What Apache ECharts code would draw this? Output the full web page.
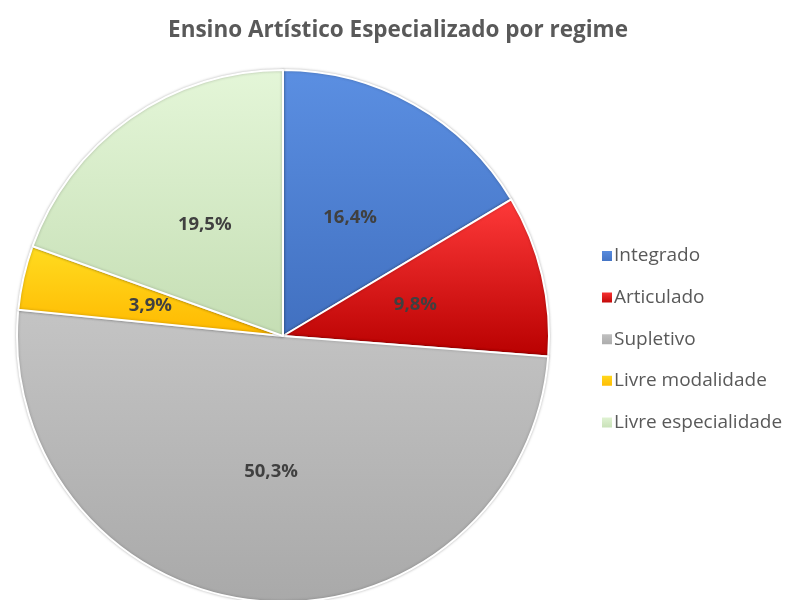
<!DOCTYPE html>
<html><head><meta charset="utf-8">
<script src="https://cdn.jsdelivr.net/npm/echarts@6/dist/echarts.min.js"></script>
<style>html,body{margin:0;padding:0;background:#fff}#c{width:789px;height:600px}</style>
</head><body><div id="c"></div>
<script>
const title = 'Ensino Artístico Especializado por regime';
const categories = ['Integrado', 'Articulado', 'Supletivo', 'Livre modalidade', 'Livre especialidade'];
const values = [16.4, 9.8, 50.3, 3.9, 19.5];
const colorTop = ['#5b8fe2', '#ff3a3a', '#c4c4c4', '#ffdc20', '#e4f6d8'];
const colorBottom = ['#4170c0', '#b80000', '#a9a9a9', '#ffb800', '#c5deb4'];

function grad(i){
  return new echarts.graphic.LinearGradient(0,0,0,1,[{offset:0,color:colorTop[i]},{offset:1,color:colorBottom[i]}]);
}
const chart = echarts.init(document.getElementById('c'));
chart.setOption({
  animation:false,
  title:{text:title,left:393,top:14,textAlign:'center',
    textStyle:{fontFamily:'Open Sans',fontWeight:'bold',fontSize:22.5,color:'#595959'}},
  legend:{orient:'vertical',left:595,top:239,icon:'rect',itemWidth:12,itemHeight:12,itemGap:17.6,
    data:categories,
    textStyle:{fontFamily:'Open Sans',fontSize:19,color:'#595959',padding:[0,0,0,-4],lineHeight:24}},
  series:[{
    type:'pie',center:[283,336],radius:[0,266],startAngle:90,clockwise:true,
    label:{show:true,position:'inside',formatter:p=>p.value.toFixed(1).replace('.',',')+'%',
      fontFamily:'Open Sans',fontWeight:'bold',fontSize:18.5,color:'#404040'},
    labelLine:{show:false},
    itemStyle:{borderColor:'#ffffff',borderWidth:2,shadowBlur:3,shadowColor:'rgba(0,0,0,0.25)'},
    data:categories.map((n,i)=>({name:n,value:values[i],itemStyle:{color:grad(i)}}))
  }]
});
</script></body></html>
